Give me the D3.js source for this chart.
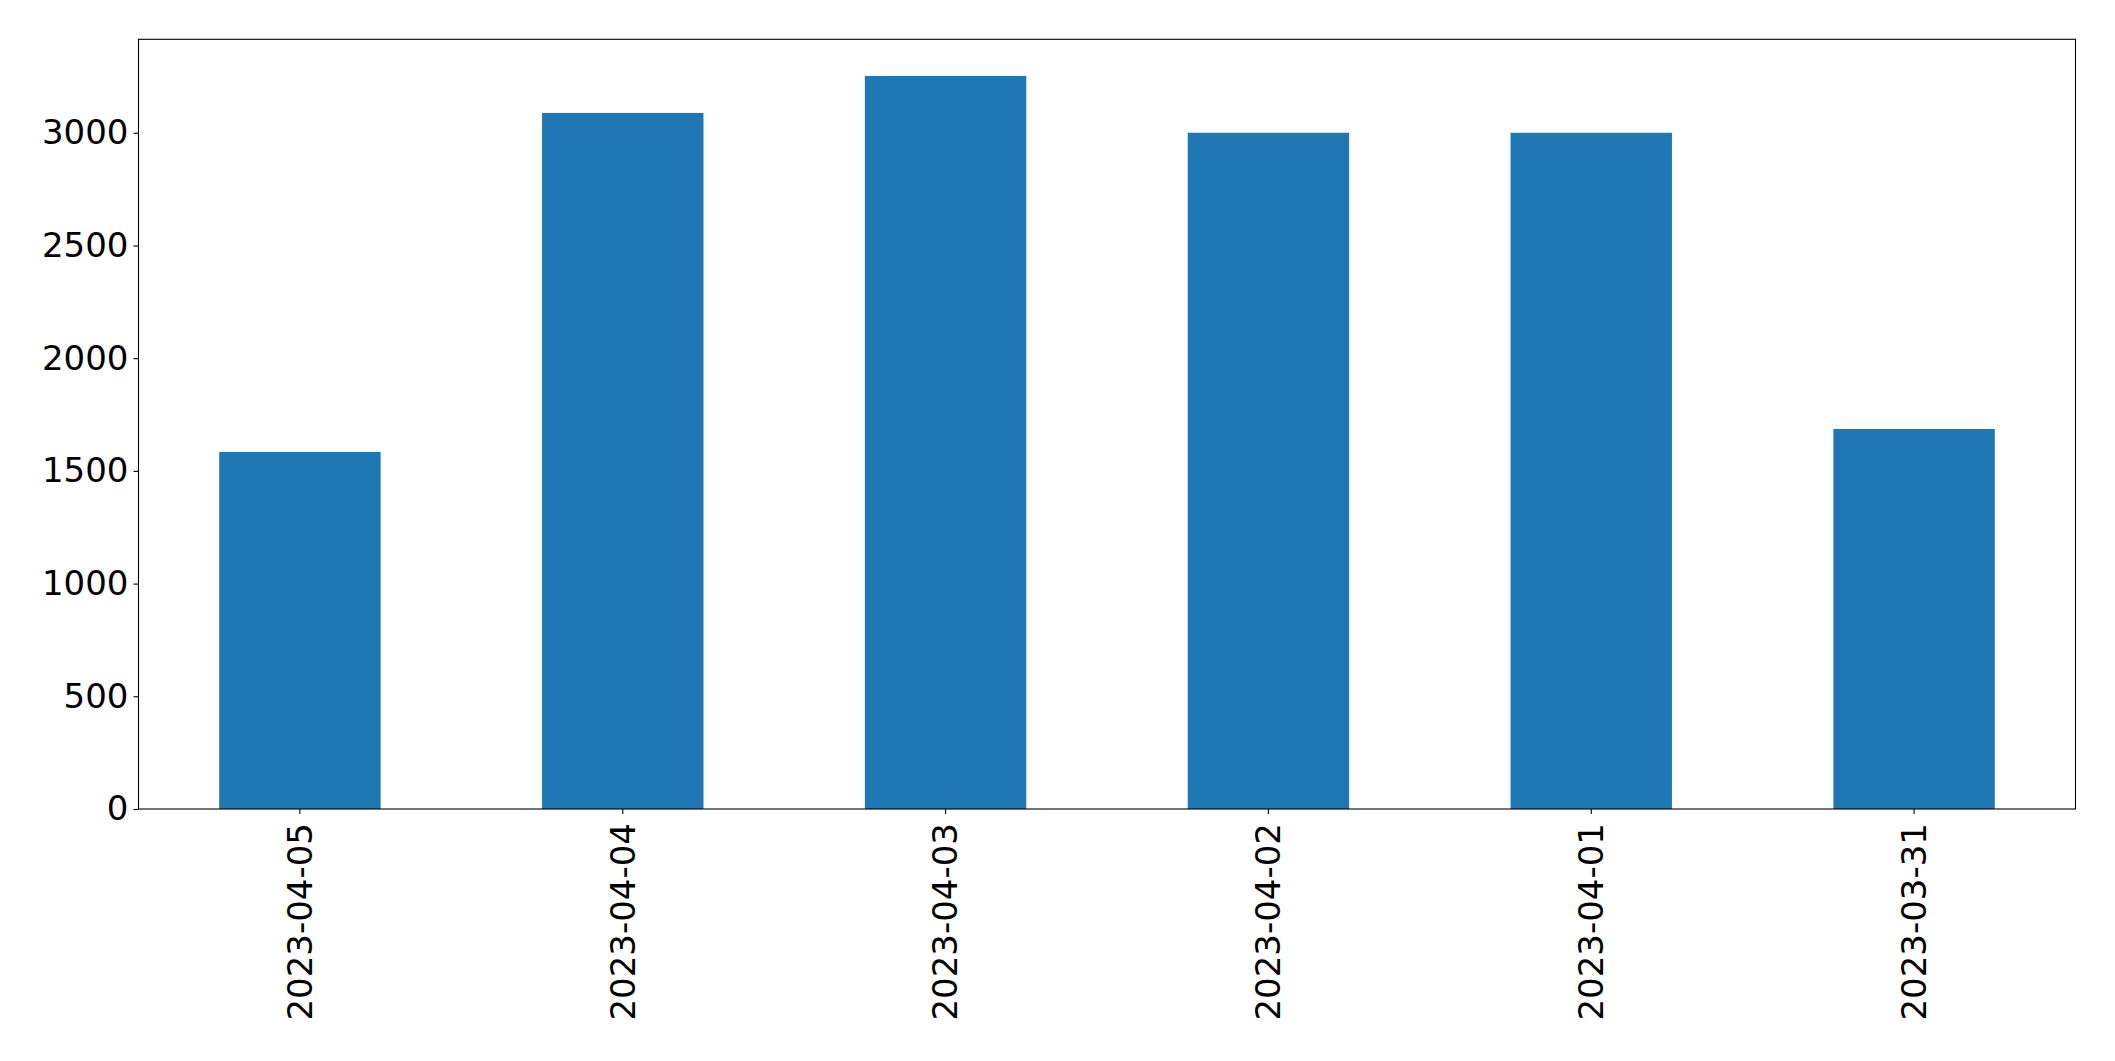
<!DOCTYPE html>
<html>
<head>
<meta charset="utf-8">
<script src="https://cdn.jsdelivr.net/npm/d3@7"></script>
<style>
  html, body { margin: 0; padding: 0; background: #fff; }
  svg { display: block; }
  text { font-family: "DejaVu Sans", sans-serif; }
</style>
</head>
<body>
<svg id="chart" width="2115" height="1061"></svg>
<script>
const categories = ["2023-04-05", "2023-04-04", "2023-04-03", "2023-04-02", "2023-04-01", "2023-03-31"];
const values = [1584, 3088, 3252, 3000, 3000, 1686];
const yTicks = [0, 500, 1000, 1500, 2000, 2500, 3000];

const W = 2115, H = 1061;
const margin = { left: 138.5, right: W - 2075.5, top: 39.3, bottom: H - 809 };
const svg = d3.select("#chart");
const iw = W - margin.left - margin.right;
const ih = H - margin.top - margin.bottom;
const g = svg.append("g").attr("transform", `translate(${margin.left},${margin.top})`);

const x = d3.scaleBand().domain(categories).range([0, iw]).paddingInner(0.5).paddingOuter(0.25);
const y = d3.scaleLinear().domain([0, d3.max(values) * 1.05]).range([ih, 0]);

g.selectAll("rect.bar").data(values).enter().append("rect")
  .attr("class", "bar")
  .attr("x", (d, i) => x(categories[i]))
  .attr("width", x.bandwidth())
  .attr("y", d => y(d))
  .attr("height", d => ih - y(d))
  .attr("fill", "#1f77b4");

const fontSize = 34;

const yAxis = g.append("g").call(d3.axisLeft(y).tickValues(yTicks).tickSize(5).tickPadding(5).tickFormat(d3.format("d")));
yAxis.select(".domain").remove();
yAxis.selectAll("line").attr("stroke", "#000").attr("stroke-width", 1.1);
yAxis.selectAll("text").attr("font-size", fontSize).attr("fill", "#000").attr("font-family", "DejaVu Sans");

const xAxis = g.append("g").attr("transform", `translate(0,${ih})`)
  .call(d3.axisBottom(x).tickSize(5).tickPadding(0));
xAxis.select(".domain").remove();
xAxis.selectAll("line").attr("stroke", "#000").attr("stroke-width", 1.1);
xAxis.selectAll("text")
  .attr("font-size", fontSize).attr("fill", "#000").attr("font-family", "DejaVu Sans")
  .attr("text-anchor", "end")
  .attr("transform", "translate(0,14) rotate(-90)")
  .attr("x", 0).attr("y", 0).attr("dy", "0.35em");

g.append("rect").attr("x", 0).attr("y", 0).attr("width", iw).attr("height", ih)
  .attr("fill", "none").attr("stroke", "#000").attr("stroke-width", 1.1);
</script>
</body>
</html>
